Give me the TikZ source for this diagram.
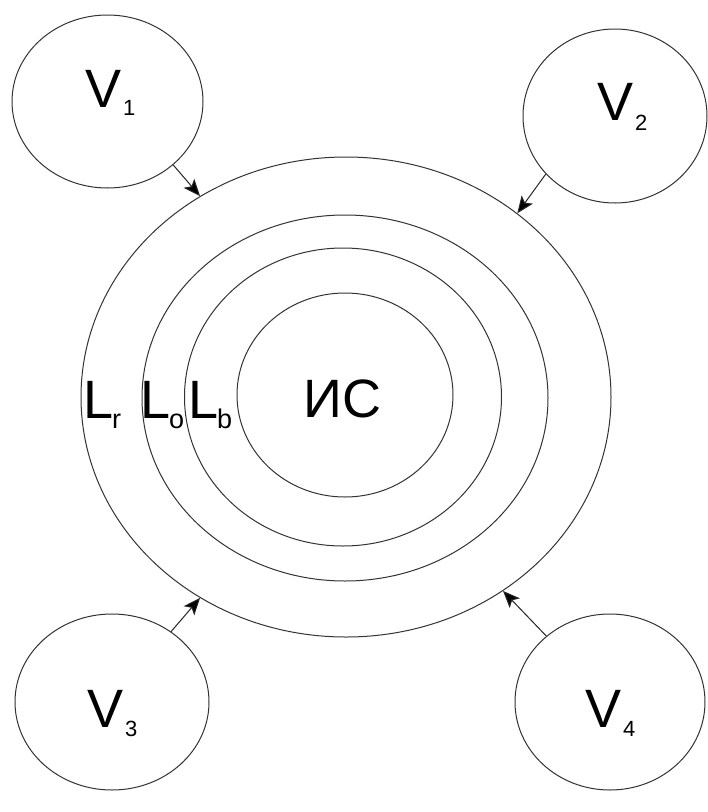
\documentclass[tikz,border=0pt]{standalone}
\usepackage{fontspec}
\setmainfont{Liberation Sans}
\usetikzlibrary{shapes.geometric,arrows.meta}
\newcommand{\mysub}[3]{\raisebox{-#1}{\fontsize{#2}{#2}\selectfont #3}}
\begin{document}
\begin{tikzpicture}[x=1pt,y=-1pt,
 ring/.style={ellipse,draw=black!80,line width=1pt,inner sep=0pt},
 big/.style={font=\fontsize{54}{54}\selectfont,inner sep=0pt,anchor=base west},
 flow/.style={draw=black!85,line width=1pt,-{Stealth[length=17pt,width=14pt,inset=4pt,fill=black]}}]
\useasboundingbox[fill=white] (0,0) rectangle (708,812);
% rings
\node[ring,minimum width=530pt,minimum height=480pt] (Lg) at (346,397) {};
\node[ring,minimum width=406pt,minimum height=366pt] (Lo) at (345,398) {};
\node[ring,minimum width=317pt,minimum height=298pt] (Lb) at (343,397) {};
\node[ring,minimum width=216pt,minimum height=204pt] (IS) at (345,395) {};
% outer sources
\node[ring,minimum width=191pt,minimum height=173pt] (V1) at (107.5,101.5) {};
\node[ring,minimum width=184pt,minimum height=174pt] (V2) at (615,116) {};
\node[ring,minimum width=194pt,minimum height=176pt] (V3) at (112,702) {};
\node[ring,minimum width=190pt,minimum height=176pt] (V4) at (610,702) {};
% labels
\node[big] (tV1) at (85,107) {V\kern2pt\mysub{8pt}{22}{1}};
\node[big] (tV2) at (597,120) {V\kern2pt\mysub{10pt}{22}{2}};
\node[big] (tV3) at (87,727) {V\kern2pt\mysub{9pt}{22}{3}};
\node[big] (tV4) at (585,727) {V\kern2pt\mysub{9pt}{22}{4}};
\node[big] (tLg) at (83,418) {L\kern-1pt\mysub{10pt}{27}{r}};
\node[big] (tLo) at (140,418) {L\kern-1pt\mysub{10pt}{27}{o}};
\node[big] (tLb) at (188,418) {L\kern-1pt\mysub{10pt}{27}{b}};
\node[big] (tIS) at (303,417) {ИС};
% influences
\coordinate (e1) at (Lg.126);
\coordinate (e2) at (Lg.47.5);
\coordinate (e3) at (Lg.234);
\coordinate (e4) at (Lg.309.6);
\draw[flow] (V1.-44) -- (e1);
\draw[flow] (V2.220) -- (e2);
\draw[flow] (V3.50) -- (e3);
\draw[flow] (V4.134.6) -- (e4);
\end{tikzpicture}
\end{document}
